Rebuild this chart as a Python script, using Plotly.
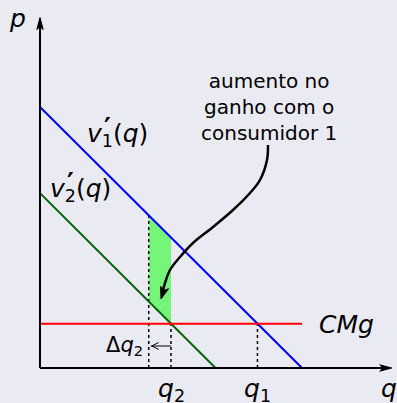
import plotly.graph_objects as go
import math

# ---- data (economic model) ----
v1_intercept = 10.0      # v'_1(q) = v1_intercept - q
v2_intercept = 6.7       # v'_2(q) = v2_intercept - q
cmg = 1.7                # marginal cost (CMg)
dq2 = 0.85               # Δq2
axis_max_q = 13.35
axis_max_p = 13.35
annotation_text = ["aumento no", "ganho com o", "consumidor 1"]

q1 = v1_intercept - cmg
q2 = v2_intercept - cmg
q2_left = q2 - dq2

# ---- layout mapping (pixels <-> data) ----
W, H = 397, 403
OX, OY = 40, 368
SX, SY = 26.2, 26.1
def X(px): return (px - OX) / SX
def Y(py): return (OY - py) / SY

BG = "#EAEAF2"
FONT = "DejaVu Sans"

fig = go.Figure()

# green fill area
fx = [q2_left, q2, q2, q2_left]
fy = [v1_intercept - q2_left, v1_intercept - q2, v2_intercept - q2, v2_intercept - q2_left]
fig.add_trace(go.Scatter(x=fx, y=fy, fill="toself", mode="none",
                         fillcolor="rgba(0,255,0,0.5)", hoverinfo="skip"))

# dotted verticals
for xv, top in [(q2_left, v1_intercept - q2_left), (q2, cmg), (q1, cmg)]:
    fig.add_trace(go.Scatter(x=[xv, xv], y=[0, top], mode="lines",
                             line=dict(color="black", width=1.5, dash="dot"), hoverinfo="skip"))

# demand curves and CMg
fig.add_trace(go.Scatter(x=[0, v2_intercept], y=[v2_intercept, 0], mode="lines",
                         line=dict(color="#006400", width=2), hoverinfo="skip"))
fig.add_trace(go.Scatter(x=[0, v1_intercept], y=[v1_intercept, 0], mode="lines",
                         line=dict(color="#0000FF", width=2), hoverinfo="skip"))
fig.add_trace(go.Scatter(x=[0, v1_intercept], y=[cmg, cmg], mode="lines",
                         line=dict(color="#FF0000", width=2), hoverinfo="skip"))

# curved arrow
cx = [X(268), X(267), X(260), X(250), X(233), X(213), X(193), X(180), X(170), X(165), X(162)]
cy = [Y(145), Y(160), Y(180), Y(193), Y(210), Y(227), Y(243), Y(257), Y(270), Y(283), Y(294)]
fig.add_trace(go.Scatter(x=cx, y=cy, mode="lines", line=dict(color="black", width=2.5, shape="spline"),
                         hoverinfo="skip"))

shapes = []
# axes
shapes.append(dict(type="line", xref="x", yref="y", x0=0, y0=0, x1=axis_max_q, y1=0,
                   line=dict(color="black", width=2)))
shapes.append(dict(type="line", xref="x", yref="y", x0=0, y0=0, x1=0, y1=axis_max_p,
                   line=dict(color="black", width=2)))

def head(tipx, tipy, dx, dy, L, w, notch):
    tx, ty = tipx, tipy
    bx, by = tx - dx * L, ty - dy * L
    nx, ny = -dy, dx
    p1 = (bx + nx * w, by + ny * w)
    p2 = (bx - nx * w, by - ny * w)
    pn = (tx - dx * (L - notch), ty - dy * (L - notch))
    pts = [(tx, ty), p1, pn, p2]
    d = "M " + " L ".join(f"{X(a)},{Y(b)}" for a, b in pts) + " Z"
    return dict(type="path", xref="x", yref="y", path=d, fillcolor="black",
                line=dict(color="black", width=1))

tipx_px = OX + axis_max_q * SX
tipy_px = OY - axis_max_p * SY
shapes.append(head(tipx_px + 2, OY, 1, 0, 12, 3.2, 3))
shapes.append(head(OX, tipy_px - 2, 0, -1, 12, 3.2, 3))
ddx, ddy = 161 - 166, 298 - 282
n = math.hypot(ddx, ddy)
shapes.append(head(161, 299, ddx / n, ddy / n, 12, 4.2, 3))

# Δq2 small arrow
dy_px = 346
lx = OX + q2_left * SX
shapes.append(dict(type="line", xref="x", yref="y", x0=q2, y0=Y(dy_px), x1=q2_left + 0.08, y1=Y(dy_px),
                   line=dict(color="black", width=1)))
shapes.append(dict(type="path", xref="x", yref="y",
                   path=f"M {X(lx + 10)},{Y(dy_px-3.5)} L {X(lx + 3)},{Y(dy_px)} L {X(lx + 10)},{Y(dy_px+3.5)}",
                   line=dict(color="black", width=1)))

ann = []
def label(px, py, text, size, xanchor="center", yanchor="middle", xd=None):
    ann.append(dict(x=xd if xd is not None else X(px), y=Y(py), xref="x", yref="y", text=text,
                    showarrow=False, xanchor=xanchor, yanchor=yanchor,
                    font=dict(family=FONT, size=size, color="black")))

label(17, 18, "<i>p</i>", 25)
label(389, 388, "<i>q</i>", 25)
label(0, 390, "<i>q</i><sub>2</sub>", 25, xd=q2)
label(0, 390, "<i>q</i><sub>1</sub>", 25, xd=q1)
label(346, 324, "<i>CMg</i>", 25)
label(117, 135, "<i>v</i><sub>1</sub>(<i>q</i>)", 25)
label(107, 128, "<b>′</b>", 26)
label(80, 190, "<i>v</i><sub>2</sub>(<i>q</i>)", 25)
label(70, 183, "<b>′</b>", 26)
label(145, 346, "Δ<i>q</i><sub>2</sub>", 21, xanchor="right")
label(269, 107, "<br>".join(annotation_text), 20)

fig.update_layout(
    width=W, height=H, margin=dict(l=0, r=0, t=0, b=0),
    paper_bgcolor=BG, plot_bgcolor=BG, showlegend=False,
    xaxis=dict(range=[X(0), X(W)], visible=False, fixedrange=True),
    yaxis=dict(range=[Y(H), Y(0)], visible=False, fixedrange=True),
    shapes=shapes, annotations=ann,
)

fig.write_html("out.html", config={"displayModeBar": False},
               post_script="document.body.style.margin='0';document.body.style.background='#EAEAF2';")
